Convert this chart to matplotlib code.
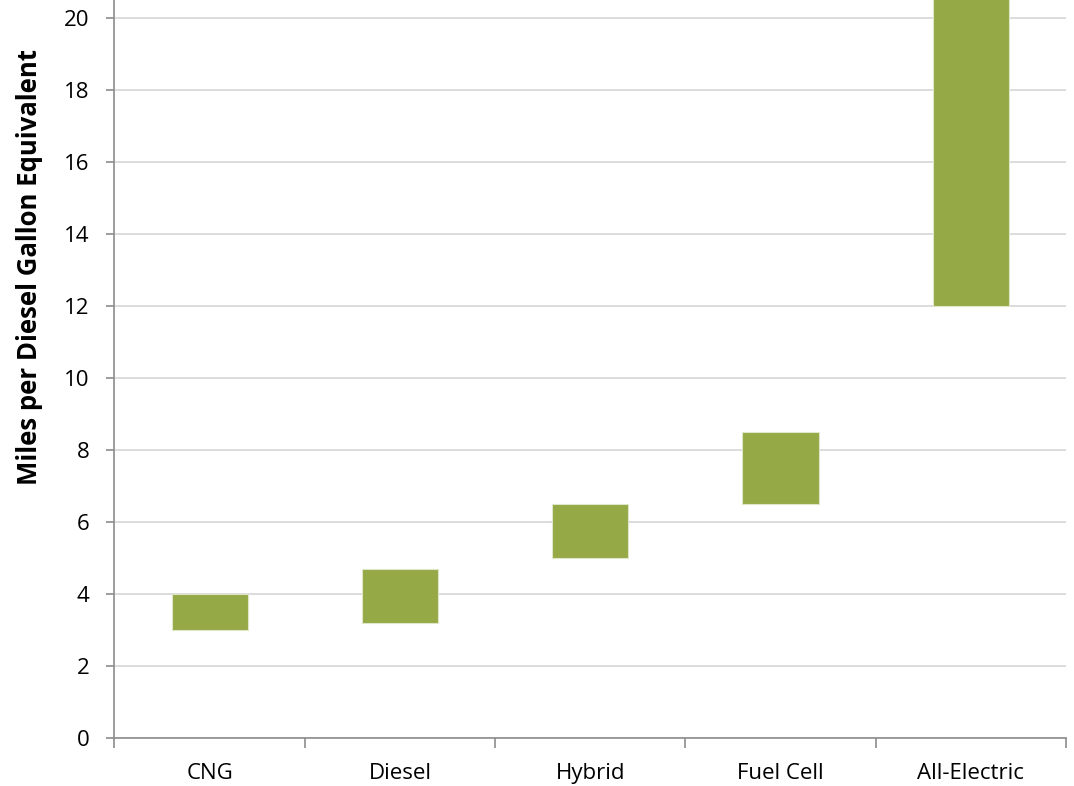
import matplotlib
matplotlib.use("Agg")
import matplotlib.pyplot as plt
from matplotlib.ticker import MultipleLocator, FixedLocator

# Fuel economy ranges by bus technology (miles per diesel gallon equivalent)
categories = ["CNG", "Diesel", "Hybrid", "Fuel Cell", "All-Electric"]
low_values = [3.0, 3.2, 5.0, 6.5, 12.0]
high_values = [4.0, 4.7, 6.5, 8.5, 22.0]

bar_color = "#95A946"
axis_color = "#8C8C8C"
grid_color = "#D9D9D9"

plt.rcParams["font.family"] = ["Open Sans", "DejaVu Sans"]

fig = plt.figure(figsize=(10.74, 7.86), dpi=100)
ax = fig.add_axes([0.1066, 0.0607, 0.8859, 0.9393])

x = list(range(len(categories)))
heights = [h - l for l, h in zip(low_values, high_values)]
ax.bar(x, heights, bottom=low_values, width=0.4, color=bar_color,
       edgecolor="#DDE6C6", linewidth=0.8, zorder=3)

ax.set_xlim(-0.5, len(categories) - 0.5)
ax.set_ylim(0, 20.51)
ax.yaxis.set_major_locator(MultipleLocator(2))
ax.yaxis.grid(True, color=grid_color, linewidth=1.3, zorder=0)
ax.set_axisbelow(True)

ax.set_xticks(x)
ax.set_xticklabels(categories)
ax.xaxis.set_minor_locator(FixedLocator([i - 0.5 for i in range(len(categories) + 1)]))
ax.tick_params(axis="x", which="major", length=0, pad=18, labelsize=16, colors="black")
ax.tick_params(axis="x", which="minor", length=7, width=1.2, color=axis_color, direction="out")
ax.tick_params(axis="y", which="major", length=6, width=1.2, color=axis_color,
               labelsize=16, pad=12, labelcolor="black")

for side in ("top", "right"):
    ax.spines[side].set_visible(False)
for side in ("left", "bottom"):
    ax.spines[side].set_color(axis_color)
    ax.spines[side].set_linewidth(1.2)

# Axis title sits in the upper part of the left margin
fig.text(30 / 1074, 1 - 267 / 786, "Miles per Diesel Gallon Equivalent",
         fontsize=18.5, fontweight="bold", rotation=90, ha="center", va="center")

fig.savefig("out.png", dpi=100)
